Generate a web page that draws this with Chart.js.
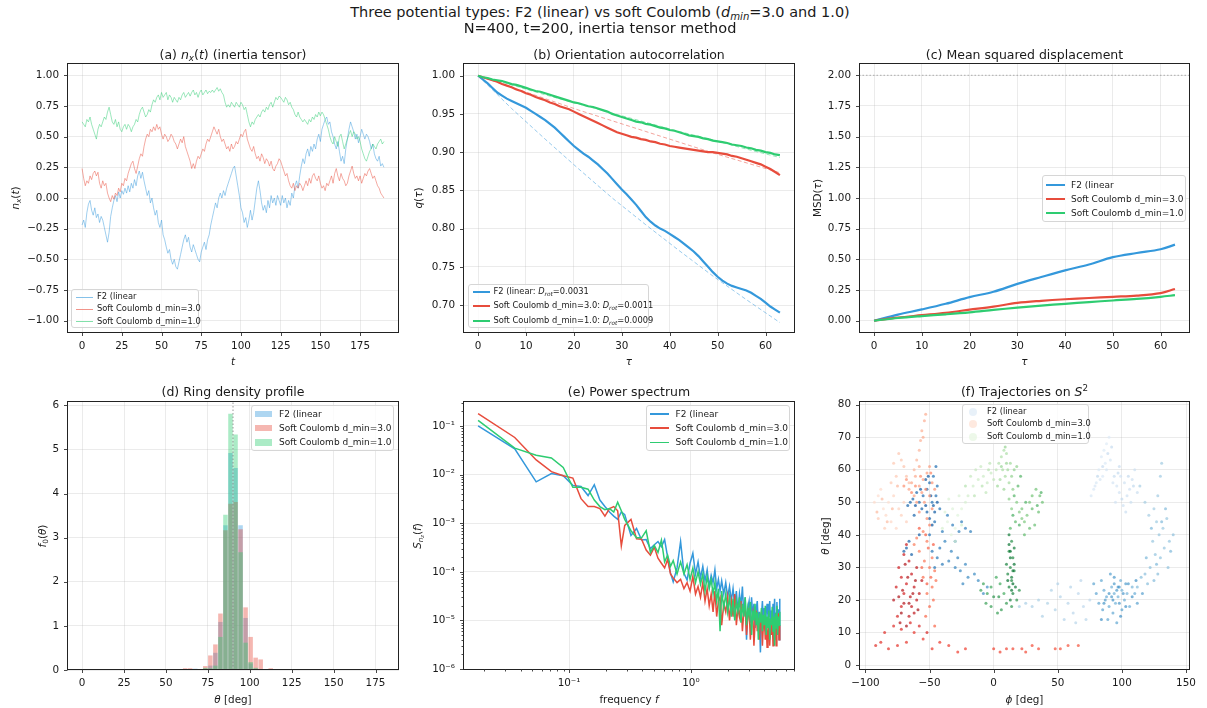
<!DOCTYPE html>
<html><head><meta charset="utf-8">
<script src="https://cdn.jsdelivr.net/npm/chart.js@4.4.1/dist/chart.umd.min.js"></script>
<style>
html,body{margin:0;padding:0;background:#fff;}
#fig{position:relative;width:1207px;height:708px;overflow:hidden;background:#fff;font-family:'DejaVu Sans',sans-serif;color:#1a1a1a;}
canvas{position:absolute;}
.t{position:absolute;white-space:nowrap;line-height:1.2;transform:translate(-50%,-50%);}
sub,sup{font-size:70%;line-height:0;}
sub{vertical-align:-0.3em;} sup{vertical-align:0.55em;}
.leg{position:absolute;background:rgba(255,255,255,0.8);border:1px solid #d6d6d6;border-radius:3px;box-sizing:border-box;}
.leg .lt{position:absolute;white-space:nowrap;line-height:1.2;transform:translateY(-50%);color:#1a1a1a;}
</style></head>
<body><div id="fig"></div>
<script>
// ---------------- DATA ----------------
const SERIES = ['F2 (linear', 'Soft Coulomb d_min=3.0', 'Soft Coulomb d_min=1.0'];
const COLORS = [[52,152,219],[231,76,60],[46,204,113]];

// (a) n_x(t), one sample per time unit, t = 0..190
const nxF2 = [-0.22,-0.18,-0.24,-0.12,-0.05,-0.02,-0.10,-0.14,-0.08,-0.16,-0.13,
-0.20,-0.15,-0.18,-0.24,-0.30,-0.36,-0.28,-0.15,-0.08,-0.02,
0.02,-0.03,0.05,0.00,0.06,0.03,0.08,0.04,0.10,0.05,
0.12,0.08,0.15,0.10,0.18,0.22,0.16,0.21,0.14,0.08,
0.02,0.06,-0.04,0.00,-0.08,-0.14,-0.10,-0.20,-0.24,-0.18,
-0.30,-0.34,-0.40,-0.45,-0.42,-0.50,-0.54,-0.50,-0.56,-0.58,
-0.52,-0.46,-0.40,-0.34,-0.30,-0.36,-0.32,-0.40,-0.44,-0.38,
-0.42,-0.46,-0.50,-0.52,-0.44,-0.40,-0.36,-0.42,-0.34,-0.30,
-0.22,-0.16,-0.10,-0.04,-0.08,0.00,0.04,0.00,0.06,0.02,
0.08,0.12,0.16,0.20,0.24,0.26,0.18,0.10,0.02,-0.08,
-0.12,-0.20,-0.16,-0.24,-0.18,-0.10,-0.18,-0.12,-0.02,0.08,
0.14,0.06,-0.04,-0.10,-0.06,-0.12,-0.02,-0.08,0.02,-0.04,
0.00,-0.06,0.02,-0.02,-0.06,0.02,-0.04,0.00,-0.08,-0.02,
-0.06,0.04,0.00,0.10,0.14,0.08,0.18,0.26,0.32,0.28,
0.36,0.40,0.34,0.42,0.38,0.44,0.40,0.48,0.52,0.46,
0.56,0.60,0.64,0.66,0.60,0.62,0.54,0.50,0.44,0.40,
0.46,0.38,0.30,0.34,0.28,0.40,0.48,0.56,0.62,0.58,
0.54,0.48,0.52,0.45,0.50,0.56,0.52,0.48,0.52,0.50,
0.46,0.40,0.44,0.36,0.32,0.30,0.34,0.26,0.28,0.25];
const nxSC3 = [0.24,0.16,0.10,0.14,0.12,0.18,0.15,0.20,0.22,0.18,0.21,
0.12,0.08,0.14,0.10,0.12,0.04,0.00,-0.03,0.02,-0.01,
0.04,0.02,0.08,0.05,0.12,0.10,0.16,0.14,0.20,0.24,
0.28,0.30,0.24,0.20,0.26,0.32,0.36,0.34,0.42,0.48,
0.52,0.50,0.56,0.54,0.58,0.55,0.60,0.56,0.58,0.52,
0.48,0.52,0.50,0.46,0.48,0.52,0.50,0.46,0.44,0.40,
0.44,0.48,0.45,0.50,0.42,0.38,0.34,0.30,0.24,0.28,
0.24,0.30,0.34,0.32,0.36,0.40,0.38,0.44,0.48,0.46,
0.50,0.54,0.58,0.55,0.52,0.56,0.50,0.46,0.48,0.44,
0.40,0.42,0.38,0.44,0.40,0.42,0.46,0.44,0.48,0.52,
0.50,0.54,0.56,0.48,0.44,0.40,0.38,0.42,0.36,0.32,
0.34,0.30,0.36,0.33,0.28,0.32,0.30,0.26,0.30,0.24,
0.22,0.26,0.28,0.32,0.30,0.26,0.22,0.18,0.20,0.14,
0.10,0.08,0.12,0.06,0.10,0.08,0.12,0.10,0.06,0.10,
0.14,0.10,0.16,0.12,0.18,0.20,0.16,0.14,0.18,0.12,
0.08,0.10,0.06,0.12,0.10,0.14,0.18,0.12,0.20,0.24,
0.18,0.14,0.20,0.16,0.14,0.10,0.12,0.18,0.22,0.26,
0.20,0.16,0.18,0.14,0.18,0.12,0.16,0.20,0.18,0.22,
0.24,0.20,0.16,0.18,0.14,0.10,0.08,0.04,0.02,0.00];
const nxSC1 = [0.62,0.60,0.58,0.64,0.62,0.66,0.60,0.56,0.52,0.48,0.56,
0.60,0.58,0.62,0.66,0.64,0.70,0.74,0.68,0.62,0.60,
0.64,0.58,0.62,0.56,0.54,0.58,0.60,0.56,0.60,0.58,
0.54,0.58,0.60,0.64,0.62,0.68,0.72,0.74,0.70,0.66,
0.68,0.72,0.70,0.76,0.80,0.78,0.82,0.84,0.80,0.86,
0.82,0.84,0.86,0.80,0.84,0.82,0.78,0.82,0.80,0.78,
0.82,0.80,0.84,0.86,0.82,0.84,0.86,0.83,0.86,0.88,
0.84,0.86,0.82,0.86,0.88,0.84,0.86,0.88,0.85,0.87,
0.86,0.88,0.86,0.88,0.90,0.87,0.89,0.86,0.84,0.78,
0.74,0.76,0.74,0.78,0.76,0.74,0.78,0.76,0.74,0.78,
0.76,0.72,0.74,0.68,0.62,0.58,0.62,0.60,0.64,0.66,
0.68,0.66,0.70,0.72,0.70,0.74,0.72,0.76,0.78,0.74,
0.78,0.82,0.80,0.83,0.82,0.80,0.78,0.82,0.80,0.76,
0.78,0.74,0.72,0.68,0.66,0.70,0.66,0.64,0.62,0.64,
0.62,0.60,0.64,0.62,0.66,0.64,0.68,0.66,0.70,0.67,
0.70,0.68,0.64,0.60,0.56,0.50,0.46,0.44,0.50,0.46,
0.42,0.50,0.52,0.46,0.40,0.44,0.48,0.52,0.55,0.50,
0.54,0.52,0.48,0.50,0.46,0.40,0.36,0.32,0.30,0.34,
0.38,0.40,0.44,0.42,0.40,0.44,0.46,0.48,0.44,0.46];
const aTicksX = [0,25,50,75,100,125,150,175];
const aTicksY = [-1,-0.75,-0.5,-0.25,0,0.25,0.5,0.75,1];

// (b) q(tau), tau = 0..63 lag steps
const qF2 = [1.000,0.995,0.990,0.984,0.978,0.974,0.970,0.967,0.964,0.961,
0.958,0.954,0.950,0.946,0.942,0.937,0.932,0.926,0.920,0.914,
0.908,0.903,0.898,0.894,0.889,0.884,0.878,0.872,0.865,0.858,
0.851,0.845,0.838,0.831,0.823,0.815,0.809,0.804,0.800,0.797,
0.793,0.789,0.785,0.780,0.775,0.770,0.764,0.757,0.750,0.743,
0.737,0.732,0.728,0.725,0.723,0.721,0.719,0.716,0.712,0.708,
0.703,0.698,0.694,0.690];
const qSC3 = [1.000,0.998,0.996,0.994,0.992,0.989,0.987,0.985,0.982,0.980,
0.977,0.975,0.972,0.970,0.968,0.965,0.963,0.960,0.958,0.956,
0.953,0.950,0.947,0.944,0.941,0.938,0.935,0.932,0.929,0.926,
0.924,0.922,0.920,0.919,0.917,0.916,0.914,0.913,0.911,0.910,
0.908,0.907,0.906,0.905,0.904,0.903,0.902,0.901,0.900,0.900,
0.899,0.898,0.897,0.895,0.894,0.892,0.890,0.888,0.886,0.884,
0.881,0.878,0.874,0.870];
const qSC1 = [1.000,0.998,0.997,0.995,0.994,0.993,0.991,0.989,0.988,0.986,
0.984,0.982,0.980,0.979,0.977,0.975,0.973,0.971,0.969,0.967,
0.965,0.964,0.962,0.960,0.959,0.957,0.955,0.953,0.950,0.948,
0.946,0.944,0.942,0.940,0.939,0.937,0.936,0.934,0.932,0.931,
0.929,0.928,0.926,0.924,0.922,0.921,0.920,0.918,0.917,0.915,
0.914,0.913,0.912,0.910,0.909,0.908,0.906,0.905,0.903,0.902,
0.900,0.899,0.897,0.896];
const tauFit = [0,7,14,21,28,35,42,49,56,63];
const qFitF2  = [1.000,0.957,0.917,0.878,0.840,0.805,0.771,0.738,0.707,0.677];
const qFitSC3 = [1.000,0.985,0.970,0.955,0.941,0.927,0.913,0.899,0.886,0.873];
const qFitSC1 = [1.000,0.988,0.975,0.963,0.951,0.939,0.927,0.916,0.904,0.893];
const dRot = ['0.0031','0.0011','0.0009'];
const tauTicks = [0,10,20,30,40,50,60];
const bTicksY = [0.70,0.75,0.80,0.85,0.90,0.95,1.00];

// (c) MSD
const tauMsd = [0,5,10,15,20,25,30,35,40,45,50,55,60,63];
const msdF2  = [0,0.050,0.092,0.138,0.192,0.236,0.300,0.356,0.410,0.458,0.518,0.552,0.582,0.620];
const msdSC3 = [0,0.025,0.045,0.065,0.090,0.115,0.145,0.162,0.175,0.185,0.195,0.205,0.225,0.258];
const msdSC1 = [0,0.022,0.038,0.052,0.068,0.088,0.107,0.123,0.138,0.152,0.165,0.178,0.195,0.208];
const msdLimit = 2.0;
const cTicksY = [0,0.25,0.5,0.75,1,1.25,1.5,1.75,2];

// (d) ring density histogram (bin centres, 3 deg bins)
const thetaBins = [61.5,64.5,67.5,70.5,73.5,76.5,79.5,82.5,85.5,88.5,91.5,94.5,97.5,100.5,103.5,106.5,109.5,112.5];
const densF2  = [0,0,0.03,0,0.03,0.10,0.39,1.09,3.28,4.92,4.58,3.28,1.18,0.15,0.03,0,0,0];
const densSC3 = [0.04,0.04,0,0,0.09,0.33,0.58,1.28,3.17,3.77,3.81,3.19,1.42,0.75,0.28,0.24,0,0.04];
const densSC1 = [0,0,0,0,0.05,0.04,0.10,0.75,3.52,5.81,5.34,2.67,0.62,0.18,0.05,0,0,0];
const ringTheta = 90;
const dTicksX = [0,25,50,75,100,125,150,175];
const dTicksY = [0,1,2,3,4,5,6];

// (e) power spectrum
const freq = [0.0179,0.0358,0.0537,0.0716,0.0895,0.1074,0.1253,0.1432,0.1611,0.179,0.1969,0.2148,0.2327,0.2506,0.2685,0.2864,
0.3222,0.358,0.3938,0.4296,0.4654,0.5012,0.537,0.5728,0.6086,0.6444,0.6802,0.716,
0.7697,0.8234,0.8771,0.9308,0.9845,1.0382,1.0919,1.1456,1.1993,1.253,1.3067,1.3604,1.4141,1.4678,1.5215,1.5752,1.6289,1.6826,1.7363,1.79,
1.8616,1.9332,2.0048,2.0764,2.148,2.2196,2.2912,2.3628,2.4344,2.506,
2.5776,2.6492,2.7208,2.7924,2.864,2.9356,3.0072,3.0788,3.1504,3.222,
3.2936,3.3652,3.4368,3.5084,3.58,3.6516,3.7232,3.7948,3.8664,3.938,
4.0096,4.0812,4.1528,4.2244,4.296,4.3676,4.4392,4.5108,4.5824,4.654,
4.7256,4.7972,4.8688,4.9404,5.012,5.0836,5.1552,5.2268,5.2984,5.37];
const specF2 = [0.10,0.034,0.0071,0.0105,0.0095,0.0060,0.0057,0.0037,0.0062,0.0030,0.0022,0.0017,0.0014,0.0012,0.0017,0.0015,
0.00056,0.00078,0.00045,0.00046,0.00030,0.00036,0.00042,0.00033,0.00046,0.00020,0.000095,0.000062,
0.00012,0.00042,0.000093,0.000068,0.00015,0.00024,0.00009,0.00016,0.000075,0.00013,0.000065,0.00011,0.00005,0.000085,0.00006,0.00011,0.000045,0.00007,0.00004,0.000065,
0.000035,0.00006,0.00003,0.00005,0.000025,0.000045,0.00002,0.00004,0.000015,0.000035,
0.00002,0.00005,0.000012,0.00003,0.000004,0.000018,0.000025,0.000009,0.00003,0.000012,
0.000022,0.000007,0.000017,0.000025,0.000008,0.000015,0.0000022,0.000012,0.000025,0.000009,
0.000018,0.000006,0.000014,0.000022,0.000012,0.000012,0.000025,0.000008,0.000016,0.000006,
0.000022,0.00001,0.000028,0.000005,0.000014,0.000024,0.000009,0.000017,0.000004,0.000028];
const specSC3 = [0.18,0.058,0.020,0.0115,0.0095,0.0085,0.0032,0.0022,0.0022,0.0020,0.0014,0.0020,0.0022,0.0018,0.00034,0.0009,
0.0012,0.00048,0.00047,0.00028,0.00022,0.00032,0.00019,0.00015,0.00012,0.00018,0.00009,0.000075,
0.00006,0.00007,0.000045,0.00006,0.00004,0.00008,0.000035,0.00005,0.00003,0.00006,0.000025,0.000045,0.00002,0.000035,0.000015,0.00004,0.000012,0.000025,0.00003,0.000008,
0.000022,0.000015,0.00003,0.00001,0.000025,0.000012,0.000035,0.000008,0.000018,0.000012,
0.000025,0.000006,0.000015,0.00002,0.000005,0.000012,0.000018,0.000004,0.00001,0.000014,
0.000003,0.000009,0.000016,0.000006,0.000011,0.000004,0.000009,0.000015,0.000003,0.000008,
0.000012,0.000004,0.000009,0.0000028,0.000006,0.000011,0.000003,0.000008,0.000005,0.000012,
0.000003,0.000007,0.000004,0.00001,0.000003,0.000008,0.000005,0.000014,0.000004,0.000008];
const specSC1 = [0.13,0.035,0.025,0.022,0.014,0.0055,0.0055,0.0050,0.0030,0.0022,0.0019,0.0020,0.0017,0.0027,0.0018,0.0012,
0.0007,0.0005,0.0005,0.0007,0.00025,0.00035,0.00025,0.00045,0.00016,0.00022,0.00013,0.00017,
0.00009,0.00016,0.00009,0.00014,0.00007,0.00012,0.00006,0.0001,0.000055,0.00009,0.00004,0.00008,0.000045,0.00007,0.000035,0.00006,0.000025,0.000045,0.000006,0.00004,
0.000018,0.000035,0.000015,0.00003,0.000012,0.000028,0.00001,0.000025,0.000015,0.00003,
0.000009,0.000022,0.000012,0.00003,0.000008,0.000018,0.000012,0.000024,0.000005,0.000016,
0.00001,0.000022,0.000008,0.000015,0.000004,0.000014,0.000009,0.000018,0.000006,0.000013,
0.000008,0.00002,0.000005,0.000012,0.000007,0.000016,0.000004,0.000011,0.000008,0.000019,
0.000006,0.000012,0.000003,0.000014,0.000007,0.00002,0.000005,0.000012,0.000008,0.000015];
const eTicksXMajor = [0.1,1];
const eTicksXMinor = [0.02,0.03,0.04,0.05,0.06,0.07,0.08,0.09,0.2,0.3,0.4,0.5,0.6,0.7,0.8,0.9,2,3,4,5,6,7];
const eTicksYMajor = [1e-6,1e-5,1e-4,1e-3,1e-2,1e-1];

// (f) trajectories (phi, theta) in time order
const trajF2Phi = [88,86,90,84,87,82,85,80,78,76,79,83,88,91,93,96,98,95,99,102,104,101,106,108,110,107,103,112,98,94,89,85,92,97,105,100,81,109,
75,70,66,68,62,64,72,58,60,55,52,50,48,45,42,38,35,30,25,20,
114,118,121,125,128,130,131,127,132,135,129,124,133,137,130,126,136,140,122,118,128,120,115,112,125,134,131,138,123,127,119,
108,104,100,97,94,92,95,99,102,106,110,88,90,86,84,93,89,96,82,80,78,85,100,112,116,91,98,103,87,94,96,92,101,105,98,94,90,86,108,97,93,103,111,84,99,
-5,-8,-12,-15,-20,-24,-26,-22,-28,-30,-33,-35,-38,-30,-27,-22,-18,-25,-32,-36,-40,-42,-44,-40,-46,
-48,-50,-46,-42,-45,-48,-44,-47,-45,-50,-52,-55,-58,-60,-63,-65,-67,-62,-56,-52,-66,-68,-70,-64,-58,-50,-47,-53,-46,-49,-51,-44,-57,-61,-48,-53];
const trajF2Theta = [68,66,70,64,62,60,58,56,54,52,55,57,60,63,56,55,53,50,58,56,52,49,54,57,60,50,47,53,61,58,65,61,67,59,58,51,58,55,
20,18,22,26,16,13,14,19,24,14,21,25,17,23,19,15,20,18,19,18,
55,50,46,48,52,58,62,44,42,45,40,38,36,38,33,34,30,40,30,28,28,25,27,24,26,48,44,35,42,31,33,
24,22,23,21,22,24,19,26,20,18,22,21,18,23,26,16,14,13,19,22,25,17,17,19,22,28,24,25,20,25,23,21,22,25,19,27,22,19,21,24,20,18,26,14,15,
24,22,26,28,27,25,29,31,33,30,35,32,38,38,41,42,41,44,43,46,41,36,33,31,30,
35,40,44,48,52,50,55,58,61,56,54,52,50,53,51,50,49,46,48,47,38,36,35,34,40,45,49,57,47,52,58,50,54,49,43,49];
const trajSC3Phi = [-82,-86,-90,-93,-88,-84,-80,-76,-78,-74,-70,-72,-68,-85,-90,-80,-76,-78,-74,-72,-70,-68,-66,-87,-83,-79,-91,-75,
-62,-60,-58,-57,-56,-54,-53,-55,-58,-61,
-64,-66,-62,-58,-55,-52,-50,-56,-60,-54,-50,-48,-46,-68,-70,-58,-52,-48,-57,-53,-61,-49,-64,
-50,-55,-60,-62,-58,-52,-48,-50,-54,-46,-45,-48,-52,-55,-47,-50,-53,-46,-51,-56,-49,-53,-47,-58,-52,
66,58,52,48,35,30,25,22,15,10,5,0,-22,-28,-35,-42,-48,
-55,-62,-68,-75,-82,-88,-92,-85,-78,-72,-65,-58,-52,
-75,-72,-70,-68,-72,-76,-74,-70,-68,-66,-64,-62,-60,-64,-66,-62,-58,-56,-60,-65,-70,-78,-73,-71,-67,-63,-69,-74,-61,-66,-72,-59,-68];
const trajSC3Theta = [50,48,52,50,54,46,44,42,52,48,50,46,44,42,45,56,58,62,65,63,61,58,56,51,44,48,47,55,
60,63,66,69,72,75,77,70,61,58,
56,54,52,55,57,59,61,53,50,50,52,56,54,57,55,47,45,48,58,54,55,59,53,
43,41,39,37,35,38,33,30,32,29,26,24,22,27,20,18,15,12,36,30,27,40,37,42,25,
6,6,5,5,5,6,4,5,5,5,4,5,5,4,6,7,5,
8,10,7,6,5,7,6,10,12,11,13,12,10,
15,18,22,25,27,24,30,34,37,32,28,24,20,18,15,16,22,26,30,21,19,20,13,23,27,22,31,21,26,19,16,17,12];
const trajSC1Phi = [-30,-33,-36,-28,-25,-32,-38,-35,-27,-22,-40,-30,-25,
-20,-16,-12,-8,-5,-2,-10,-14,-18,-6,0,2,-3,-15,-9,-4,-22,
4,6,8,10,7,5,9,12,11,13,3,8,6,10,9,
14,16,18,15,12,14,18,20,22,24,26,22,28,30,33,36,38,35,32,28,30,24,17,13,19,16,21,25,34,37,20,15,
8,5,2,-2,-5,-8,-10,-6,-2,3,6,10,14,18,20,4,0,
14,12,15,13,11,14,16,12,15,13,10,16,12,14,17,13,15,12,14,16,11,13,15];
const trajSC1Theta = [42,40,44,46,48,48,47,51,52,50,42,38,43,
52,55,57,58,56,59,61,60,58,53,57,60,62,52,55,60,55,
62,64,66,65,60,57,58,56,60,62,55,54,61,62,67,
58,60,61,54,51,48,50,47,45,44,46,48,50,52,54,52,50,47,43,42,48,40,44,42,55,52,58,50,49,53,43,46,
22,25,27,24,22,25,23,19,18,16,17,19,18,20,23,21,21,
38,35,33,30,28,26,29,24,22,20,31,36,40,27,24,33,29,37,23,31,26,35,25];
const fTicksX = [-100,-50,0,50,100,150];
const fTicksY = [0,10,20,30,40,50,60,70,80];

// ---------------- HELPERS ----------------
const fig = document.getElementById('fig');
Chart.defaults.font.family = "'DejaVu Sans'";
const GRID = 'rgba(176,176,176,0.32)';
const P = 18, YW = 45, XH = 30;
const rgba = (c,a) => `rgba(${c[0]},${c[1]},${c[2]},${a})`;
const fmtNum = d => v => (v < -1e-9 ? '\u2212' : '') + Math.abs(v).toFixed(d);
const SUP = {'-':'\u207B','0':'\u2070','1':'\u00B9','2':'\u00B2','3':'\u00B3','4':'\u2074','5':'\u2075','6':'\u2076','7':'\u2077','8':'\u2078','9':'\u2079'};
const fmtLog = v => '10' + String(Math.round(Math.log10(v))).split('').map(ch => SUP[ch] || ch).join('');

function txt(html, cx, cy, size, rot) {
  const e = document.createElement('div'); e.className = 't'; e.innerHTML = html;
  e.style.left = cx + 'px'; e.style.top = cy + 'px'; e.style.fontSize = size + 'px';
  if (rot) e.style.transform = 'translate(-50%,-50%) rotate(-90deg)';
  fig.appendChild(e);
}
function mkCanvas(b) {
  const c = document.createElement('canvas');
  const W = P + YW + b.w + P, H = P + b.h + XH + P;
  c.width = W; c.height = H;
  c.style.left = (b.left - YW - P) + 'px'; c.style.top = (b.top - P) + 'px';
  c.style.width = W + 'px'; c.style.height = H + 'px';
  fig.appendChild(c); return c;
}
function axis(kind, type, min, max, ticks, fmt) {
  return {
    type, min, max, offset: false, position: kind === 'x' ? 'bottom' : 'left',
    afterBuildTicks: s => { s.ticks = ticks.map(t => (typeof t === 'object') ? {value: t.v, minor: t.minor} : {value: t}); },
    afterFit: s => { if (kind === 'x') s.height = XH; else s.width = YW; },
    grid: {drawTicks: false, offset: false, lineWidth: 0.8, color: c => (c.tick && c.tick.minor) ? 'rgba(0,0,0,0)' : GRID},
    border: {display: false},
    ticks: {autoSkip: false, maxRotation: 0, minRotation: 0, padding: kind === 'x' ? 7 : 8, color: '#1a1a1a',
      font: {family: "'DejaVu Sans'", size: 10.4},
      callback: (v, i, arr) => (arr[i] && arr[i].minor) ? '' : fmt(v)}
  };
}
const framePlugin = {
  id: 'frame',
  afterDatasetsDraw(chart) {
    const {ctx, chartArea: a} = chart;
    const L = Math.round(a.left) + 0.5, T = Math.round(a.top) + 0.5, R = Math.round(a.right) - 0.5, B = Math.round(a.bottom) - 0.5;
    ctx.save();
    ctx.strokeStyle = '#222'; ctx.lineWidth = 1;
    ctx.strokeRect(L, T, R - L, B - T);
    ctx.lineWidth = 0.9; ctx.strokeStyle = '#333'; ctx.beginPath();
    const xs = chart.scales.x, ys = chart.scales.y;
    xs.ticks.forEach(t => { const p = xs.getPixelForValue(t.value); if (p < a.left - 1 || p > a.right + 1) return;
      const px = Math.round(p) + 0.5, len = t.minor ? 2 : 3.5; ctx.moveTo(px, B); ctx.lineTo(px, B + len); });
    ys.ticks.forEach(t => { const p = ys.getPixelForValue(t.value); if (p < a.top - 1 || p > a.bottom + 1) return;
      const py = Math.round(p) + 0.5, len = t.minor ? 2 : 3.5; ctx.moveTo(L, py); ctx.lineTo(L - len, py); });
    ctx.stroke(); ctx.restore();
  }
};
function opts(x, y) {
  return {responsive: false, animation: false, devicePixelRatio: 1, events: [],
    layout: {padding: P},
    plugins: {legend: {display: false}, tooltip: {enabled: false}, title: {display: false}},
    scales: {x, y}};
}
function legend(o) {
  const d = document.createElement('div'); d.className = 'leg';
  Object.assign(d.style, {left: o.left + 'px', top: o.top + 'px', width: o.w + 'px', height: o.h + 'px'});
  o.items.forEach((it, i) => {
    const cy = o.r0 + i * o.rh;
    const h = document.createElement('div'); h.style.position = 'absolute';
    if (it.kind === 'line') {
      Object.assign(h.style, {left: o.hx + 'px', top: (cy - it.lw / 2) + 'px', width: o.hw + 'px', height: it.lw + 'px', background: it.color});
    } else if (it.kind === 'patch') {
      const ph = o.font * 0.7;
      Object.assign(h.style, {left: o.hx + 'px', top: (cy - ph / 2) + 'px', width: o.hw + 'px', height: ph + 'px', background: it.color});
    } else {
      Object.assign(h.style, {left: (o.hx - 4) + 'px', top: (cy - 4) + 'px', width: '8px', height: '8px', borderRadius: '50%', background: it.color});
    }
    const s = document.createElement('span'); s.className = 'lt'; s.innerHTML = it.label;
    s.style.left = o.tx + 'px'; s.style.top = cy + 'px'; s.style.fontSize = o.font + 'px';
    d.appendChild(h); d.appendChild(s);
  });
  fig.appendChild(d);
}
const xy = (xs, ys) => ys.map((y, i) => ({x: xs[i], y}));
const idx = ys => ys.map((y, i) => ({x: i, y}));
const CMAPS = [
  ['#deebf7','#c6dbef','#9ecae1','#6baed6','#4292c6','#2171b5','#08519c'],
  ['#fee0d2','#fcbba1','#fc9272','#fb6a4a','#ef3b2c','#cb181d','#a50f15'],
  ['#e5f5e0','#c7e9c0','#a1d99b','#74c476','#41ab5d','#238b45','#006d2c']];
function cmap(stops, f, a) {
  const s = Math.max(0, Math.min(1, f)) * (stops.length - 1); const i = Math.min(stops.length - 2, Math.floor(s)); const r = s - i;
  const h = k => [1,3,5].map(j => parseInt(stops[k].substr(j, 2), 16));
  const c0 = h(i), c1 = h(i + 1);
  return `rgba(${Math.round(c0[0] + (c1[0]-c0[0])*r)},${Math.round(c0[1] + (c1[1]-c0[1])*r)},${Math.round(c0[2] + (c1[2]-c0[2])*r)},${a})`;
}

// boxes of the six plotting areas
const A = {left: 67, top: 63, w: 332, h: 270}, B = {left: 463, top: 63, w: 332, h: 270}, C = {left: 859, top: 63, w: 331, h: 270};
const D = {left: 67, top: 401, w: 332, h: 269}, E = {left: 463, top: 401, w: 332, h: 269}, F = {left: 859, top: 401, w: 331, h: 269};

// ---------------- (a) ----------------
new Chart(mkCanvas(A), {type: 'line',
  data: {datasets: [nxF2, nxSC3, nxSC1].map((s, k) => ({data: idx(s), borderColor: rgba(COLORS[k], 0.6), borderWidth: 0.8, pointRadius: 0, order: 3 - k}))},
  options: opts(axis('x', 'linear', -9.5, 199.5, aTicksX, fmtNum(0)), axis('y', 'linear', -1.1, 1.1, aTicksY, fmtNum(2))),
  plugins: [framePlugin]});

// ---------------- (b) ----------------
const tauIdx = qF2.map((_, i) => i);
const bSets = [];
[[qF2, qFitF2], [qSC3, qFitSC3], [qSC1, qFitSC1]].forEach((p, k) => {
  bSets.push({data: xy(tauIdx, p[0]), borderColor: rgba(COLORS[k], 1), borderWidth: 2.2, pointRadius: 0, order: 10 - 2 * k});
  bSets.push({data: xy(tauFit, p[1]), borderColor: rgba(COLORS[k], 0.5), borderWidth: 1, borderDash: [4, 2.5], pointRadius: 0, order: 9 - 2 * k});
});
new Chart(mkCanvas(B), {type: 'line', data: {datasets: bSets},
  options: opts(axis('x', 'linear', -3.15, 66.15, tauTicks, fmtNum(0)), axis('y', 'linear', 0.6634, 1.0166, bTicksY, fmtNum(2))),
  plugins: [framePlugin]});

// ---------------- (c) ----------------
const cSets = [msdF2, msdSC3, msdSC1].map((s, k) => ({data: xy(tauMsd, s), borderColor: rgba(COLORS[k], 1), borderWidth: 2.2, pointRadius: 0, tension: 0.35, order: 3 - k}));
cSets.push({data: [{x: -3.15, y: msdLimit}, {x: 66.15, y: msdLimit}], borderColor: 'rgba(128,128,128,0.6)', borderWidth: 1, borderDash: [1.5, 2], pointRadius: 0, order: 0});
new Chart(mkCanvas(C), {type: 'line', data: {datasets: cSets},
  options: opts(axis('x', 'linear', -3.15, 66.15, tauTicks, fmtNum(0)), axis('y', 'linear', -0.1, 2.1, cTicksY, fmtNum(2))),
  plugins: [framePlugin]});

// ---------------- (d) ----------------
const dSets = [densF2, densSC3, densSC1].map((s, k) => ({type: 'bar', data: xy(thetaBins, s), backgroundColor: rgba(COLORS[k], 0.4),
  borderWidth: 0, barPercentage: 0.9, categoryPercentage: 1, grouped: false, order: 4 - k}));
dSets.push({type: 'line', data: [{x: ringTheta, y: 0}, {x: ringTheta, y: 6.098}], borderColor: 'rgba(128,128,128,0.8)', borderWidth: 1, borderDash: [1.5, 2], pointRadius: 0, order: 0});
new Chart(mkCanvas(D), {type: 'bar', data: {datasets: dSets},
  options: opts(axis('x', 'linear', -9, 189, dTicksX, fmtNum(0)), axis('y', 'linear', 0, 6.098, dTicksY, fmtNum(0))),
  plugins: [framePlugin]});

// ---------------- (e) ----------------
const eX = eTicksXMajor.map(v => ({v, minor: false})).concat(eTicksXMinor.map(v => ({v, minor: true})));
const eY = [];
eTicksYMajor.forEach(m => { eY.push({v: m, minor: false}); for (let j = 2; j <= 9; j++) { const v = m * j; if (v < 0.3266) eY.push({v, minor: true}); } });
new Chart(mkCanvas(E), {type: 'line',
  data: {datasets: [specF2, specSC3, specSC1].map((s, k) => ({data: xy(freq, s), borderColor: rgba(COLORS[k], 1), borderWidth: 1.5, pointRadius: 0, order: 3 - k}))},
  options: opts(axis('x', 'logarithmic', 0.01346, 7.16, eX, fmtLog), axis('y', 'logarithmic', 9.55e-7, 0.3266, eY, fmtLog)),
  plugins: [framePlugin]});

// ---------------- (f) ----------------
const fPairs = [[trajF2Phi, trajF2Theta], [trajSC3Phi, trajSC3Theta], [trajSC1Phi, trajSC1Theta]];
new Chart(mkCanvas(F), {type: 'scatter',
  data: {datasets: fPairs.map((p, k) => ({data: xy(p[0], p[1]), pointRadius: 1.5, borderWidth: 0, order: 3 - k,
    backgroundColor: c => cmap(CMAPS[k], c.dataIndex / (p[0].length - 1), 0.7)}))},
  options: opts(axis('x', 'linear', -105, 153.1, fTicksX, fmtNum(0)), axis('y', 'linear', -1.5, 81.1, fTicksY, fmtNum(0))),
  plugins: [framePlugin]});

// ---------------- TEXT ----------------
txt('Three potential types: F2 (linear) vs soft Coulomb (<i>d</i><sub><i>min</i></sub>=3.0 and 1.0)', 600, 13.3, 14.5);
txt('N=400, t=200, inertia tensor method', 600, 29.3, 14.5);
const T1 = 53.7, T2 = 391.2;
txt('(a) <i>n</i><sub><i>x</i></sub>(<i>t</i>) (inertia tensor)', 233, T1, 12.5);
txt('(b) Orientation autocorrelation', 629, T1, 12.5);
txt('(c) Mean squared displacement', 1024.5, T1, 12.5);
txt('(d) Ring density profile', 233, T2, 12.5);
txt('(e) Power spectrum', 629, T2, 12.5);
txt('(f) Trajectories on <i>S</i><sup>2</sup>', 1024.5, T2, 12.5);
txt('<i>t</i>', 233, 361, 10.4);
txt('<i>τ</i>', 629, 361, 10.4);
txt('<i>τ</i>', 1024.5, 361, 10.4);
txt('<i>θ</i> [deg]', 233, 699, 10.4);
txt('frequency <i>f</i>', 629, 699, 10.4);
txt('<i>ϕ</i> [deg]', 1024.5, 699, 10.4);
txt('<i>n</i><sub><i>x</i></sub>(<i>t</i>)', 14.5, 198, 10.4, true);
txt('<i>q</i>(<i>τ</i>)', 418, 198, 10.4, true);
txt('MSD(<i>τ</i>)', 816.5, 198, 10.4, true);
txt('<i>f</i><sub>0</sub>(<i>θ</i>)', 41.7, 535.5, 10.4, true);
txt('<i>S</i><sub><i>n<sub>z</sub></i></sub>(<i>f</i>)', 417, 535.5, 10.4, true);
txt('<i>θ</i> [deg]', 825, 535.5, 10.4, true);

// ---------------- LEGENDS ----------------
legend({left: 71, top: 289, w: 128, h: 38.5, r0: 7.2, rh: 12.2, hx: 4, hw: 17, tx: 25, font: 8.3,
  items: SERIES.map((n, k) => ({label: n, kind: 'line', lw: 1, color: rgba(COLORS[k], 0.6)}))});
legend({left: 467.5, top: 284, w: 181, h: 43.5, r0: 7.2, rh: 14.2, hx: 4, hw: 17, tx: 25, font: 8.3,
  items: SERIES.map((n, k) => ({label: n + ': <i>D</i><sub><i>rot</i></sub>=' + dRot[k], kind: 'line', lw: 2, color: rgba(COLORS[k], 1)}))});
legend({left: 1041.5, top: 175, w: 144.5, h: 47, r0: 8.5, rh: 14.3, hx: 3, hw: 19, tx: 28.5, font: 9,
  items: SERIES.map((n, k) => ({label: n, kind: 'line', lw: 2, color: rgba(COLORS[k], 1)}))});
legend({left: 250.5, top: 405, w: 143.5, h: 45.5, r0: 8, rh: 14.2, hx: 3, hw: 17.5, tx: 27.5, font: 9,
  items: SERIES.map((n, k) => ({label: n, kind: 'patch', color: rgba(COLORS[k], 0.4)}))});
legend({left: 645.5, top: 405, w: 144.5, h: 46, r0: 8, rh: 14.2, hx: 3, hw: 19, tx: 29, font: 9,
  items: SERIES.map((n, k) => ({label: n, kind: 'line', lw: 1.5, color: rgba(COLORS[k], 1)}))});
legend({left: 961.5, top: 404, w: 127, h: 40, r0: 7, rh: 12.4, hx: 10.5, hw: 0, tx: 24.5, font: 8.3,
  items: SERIES.map((n, k) => ({label: n, kind: 'marker', color: cmap(CMAPS[k], 0, 0.7)}))});
</script></body></html>
